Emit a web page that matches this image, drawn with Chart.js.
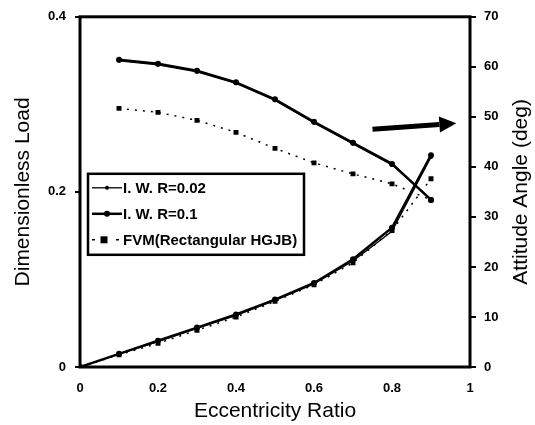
<!DOCTYPE html>
<html>
<head>
<meta charset="utf-8">
<script src="https://cdn.jsdelivr.net/npm/chart.js@4/dist/chart.umd.min.js"></script>
<style>
  body { margin: 0; background: #fff; }
</style>
</head>
<body>
<canvas id="chart" width="535" height="425"></canvas>
<script>
// ---------------------------------------------------
// Data
// ---------------------------------------------------
const eccentricity = [0, 0.1, 0.2, 0.3, 0.4, 0.5, 0.6, 0.7, 0.8, 0.9];

const loadIwr002 = [0, 0.015, 0.029, 0.044, 0.059, 0.076, 0.095, 0.121, 0.155, 0.240];
const loadIwr01  = [0, 0.015, 0.030, 0.045, 0.060, 0.077, 0.096, 0.123, 0.159, 0.242];
const loadFvm    = [0, 0.014, 0.027, 0.042, 0.057, 0.075, 0.094, 0.119, 0.156, 0.215];

const angleIwr002 = [null, 61.2, 60.4, 59.0, 56.7, 53.3, 48.8, 44.6, 40.4, 33.6];
const angleIwr01  = [null, 61.4, 60.6, 59.2, 56.9, 53.5, 49.0, 44.8, 40.6, 33.4];
const angleFvm    = [null, 51.7, 50.9, 49.3, 46.9, 43.7, 40.8, 38.6, 36.6, 33.4];

const seriesNames = ["I. W. R=0.02", "I. W. R=0.1", "FVM(Rectangular HGJB)"];

const loadTicks = [0, 0.2, 0.4];
const angleTicks = [0, 10, 20, 30, 40, 50, 60, 70];
const eccTicks = [0, 0.2, 0.4, 0.6, 0.8, 1];

const rightTitle = "Attitude Angle (deg)";

// ---------------------------------------------------
// Helpers
// ---------------------------------------------------
function toPoints(values) {
  const pts = [];
  values.forEach((v, i) => {
    if (v !== null) pts.push({ x: eccentricity[i], y: v });
  });
  return pts;
}

const styles = [
  { borderWidth: 1.3, pointStyle: "circle", pointRadius: 2, borderDash: [] },
  { borderWidth: 2.5, pointStyle: "circle", pointRadius: 3, borderDash: [] },
  { borderWidth: 1.5, pointStyle: "rect", pointRadius: 3.5, borderDash: [2, 6] },
];

function makeSet(name, values, axis, st) {
  return {
    label: name,
    data: toPoints(values),
    yAxisID: axis,
    borderColor: "#000",
    backgroundColor: "#000",
    pointBackgroundColor: "#000",
    pointBorderColor: "#000",
    borderWidth: st.borderWidth,
    borderDash: st.borderDash,
    pointStyle: st.pointStyle,
    pointRadius: st.pointRadius,
    pointBorderWidth: 0,
    fill: false,
    tension: 0,
  };
}

const fontFamily = "Arial, 'Liberation Sans', sans-serif";

// ---------------------------------------------------
// Plugins: frame, legend box, arrow, right title
// ---------------------------------------------------
const framePlugin = {
  id: "frame",
  afterDatasetsDraw(chart) {
    const { ctx, chartArea: a } = chart;
    ctx.save();
    ctx.strokeStyle = "#000";
    ctx.lineWidth = 3;
    ctx.strokeRect(a.left, a.top, a.right - a.left, a.bottom - a.top);
    ctx.restore();
  },
};

const legendBoxPlugin = {
  id: "legendBox",
  afterDraw(chart) {
    const { ctx, chartArea: a } = chart;
    const x0 = a.left + 8, y0 = a.top + 157, w = 216, h = 81;
    ctx.save();
    ctx.fillStyle = "#fff";
    ctx.fillRect(x0, y0, w, h);
    ctx.strokeStyle = "#000";
    ctx.lineWidth = 2.5;
    ctx.strokeRect(x0, y0, w, h);

    ctx.font = "bold 15px " + fontFamily;
    ctx.textBaseline = "middle";
    ctx.fillStyle = "#000";
    seriesNames.forEach((name, i) => {
      const st = styles[i];
      const cy = y0 + 14 + i * 26;
      const lx1 = x0 + 4, lx2 = x0 + 34;
      ctx.strokeStyle = "#000";
      ctx.lineWidth = st.borderWidth;
      if (st.pointStyle === "rect") {
        ctx.beginPath();
        ctx.moveTo(lx1, cy); ctx.lineTo(lx1 + 3, cy);
        ctx.moveTo(lx2 - 6, cy); ctx.lineTo(lx2 - 3, cy);
        ctx.stroke();
        ctx.fillRect(x0 + 16 - st.pointRadius, cy - st.pointRadius, st.pointRadius * 2, st.pointRadius * 2);
      } else {
        ctx.beginPath();
        ctx.moveTo(lx1, cy); ctx.lineTo(lx2, cy);
        ctx.stroke();
        ctx.beginPath();
        ctx.arc((lx1 + lx2) / 2, cy, st.pointRadius, 0, Math.PI * 2);
        ctx.fill();
      }
      ctx.fillText(name, x0 + 35, cy + 1);
    });
    ctx.restore();
  },
};

const arrowPlugin = {
  id: "arrow",
  afterDatasetsDraw(chart) {
    const { ctx } = chart;
    const xs = chart.scales.x, ys = chart.scales.y1;
    const x1 = xs.getPixelForValue(0.75), y1 = ys.getPixelForValue(47.5);
    const x2 = xs.getPixelForValue(0.965), y2 = ys.getPixelForValue(48.7);
    const ang = Math.atan2(y2 - y1, x2 - x1);
    const head = 17, half = 8;
    const bx = x2 - head * Math.cos(ang), by = y2 - head * Math.sin(ang);
    ctx.save();
    ctx.strokeStyle = "#000";
    ctx.fillStyle = "#000";
    ctx.lineWidth = 5;
    ctx.beginPath();
    ctx.moveTo(x1, y1);
    ctx.lineTo(bx, by);
    ctx.stroke();
    ctx.beginPath();
    ctx.moveTo(x2, y2);
    ctx.lineTo(bx - half * Math.sin(ang), by + half * Math.cos(ang));
    ctx.lineTo(bx + half * Math.sin(ang), by - half * Math.cos(ang));
    ctx.closePath();
    ctx.fill();
    ctx.restore();
  },
};

// Chart.js turns right-hand titles the other way, so draw this one by hand
const rightTitlePlugin = {
  id: "rightTitle",
  afterDraw(chart) {
    const { ctx } = chart;
    const s = chart.scales.y1;
    ctx.save();
    ctx.translate(s.right - 14, (s.top + s.bottom) / 2);
    ctx.rotate(-Math.PI / 2);
    ctx.font = "21px " + fontFamily;
    ctx.fillStyle = "#000";
    ctx.textAlign = "center";
    ctx.textBaseline = "middle";
    ctx.fillText(rightTitle, 0, 0);
    ctx.restore();
  },
};

// ---------------------------------------------------
// Chart
// ---------------------------------------------------
const tickFont = { family: fontFamily, size: 13, weight: "bold" };
const titleFont = { family: fontFamily, size: 21, lineHeight: 1.2 };

const ctx = document.getElementById("chart");

const chart = new Chart(ctx, {
  type: "line",
  data: {
    datasets: [
      makeSet(seriesNames[0], loadIwr002, "y", styles[0]),
      makeSet(seriesNames[1], loadIwr01, "y", styles[1]),
      makeSet(seriesNames[2], loadFvm, "y", styles[2]),
      makeSet(seriesNames[0], angleIwr002, "y1", styles[0]),
      makeSet(seriesNames[1], angleIwr01, "y1", styles[1]),
      makeSet(seriesNames[2], angleFvm, "y1", styles[2]),
    ],
  },
  options: {
    responsive: false,
    animation: false,
    layout: { padding: { top: 15, left: 0, right: 0, bottom: 0 } },
    plugins: {
      legend: { display: false },
      tooltip: { enabled: false },
    },
    scales: {
      x: {
        type: "linear",
        min: 0,
        max: 1,
        afterFit(scale) { scale.height = 58; },
        afterBuildTicks(scale) { scale.ticks = eccTicks.map((v) => ({ value: v })); },
        grid: { display: false, drawTicks: false },
        border: { display: false },
        ticks: {
          color: "#000",
          font: tickFont,
          padding: 14,
          maxRotation: 0,
          callback: (v) => String(v),
        },
        title: {
          display: true,
          text: "Eccentricity Ratio",
          color: "#000",
          font: titleFont,
          padding: { top: 0, bottom: 1.5 },
        },
      },
      y: {
        position: "left",
        min: 0,
        max: 0.4,
        afterFit(scale) { scale.width = 80; },
        afterBuildTicks(scale) { scale.ticks = loadTicks.map((v) => ({ value: v })); },
        grid: { drawOnChartArea: false, tickLength: 5, lineWidth: 2, color: "#000" },
        border: { display: false },
        ticks: {
          color: "#000",
          font: tickFont,
          padding: 9,
          callback: (v) => String(v),
        },
        title: {
          display: true,
          text: "Dimensionless Load",
          color: "#000",
          font: titleFont,
          padding: { top: 11, bottom: 0 },
        },
      },
      y1: {
        position: "right",
        min: 0,
        max: 70,
        afterFit(scale) { scale.width = 65; },
        afterBuildTicks(scale) { scale.ticks = angleTicks.map((v) => ({ value: v })); },
        grid: { drawOnChartArea: false, tickLength: 6, lineWidth: 2, color: "#000" },
        border: { display: false },
        ticks: {
          color: "#000",
          font: tickFont,
          padding: 8,
          callback: (v) => String(v),
        },
        title: { display: false },
      },
    },
  },
  plugins: [framePlugin, arrowPlugin, legendBoxPlugin, rightTitlePlugin],
});
</script>
</body>
</html>
